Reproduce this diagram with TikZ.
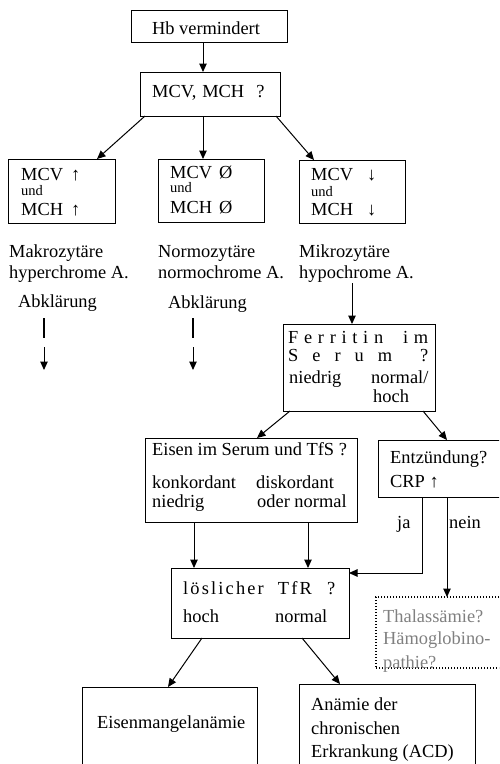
\documentclass[tikz,border=0pt]{standalone}
\usepackage{fontspec}
\setmainfont{Liberation Serif}
\usetikzlibrary{arrows.meta,calc}
\definecolor{hintgray}{HTML}{808080}
\newcommand\bigfs{\fontsize{18.4}{22}\selectfont}
\newcommand\undfs{\fontsize{14.5}{16}\selectfont}
\newcommand\lsp{\hskip 0pt plus 1fil\relax}

\begin{document}
\begin{tikzpicture}[x=1pt,y=-1pt,font=\bigfs,
   box/.style={draw,line width=1pt,inner sep=0pt,outer sep=0pt,anchor=north west},
   dotbox/.style={box,line width=1.3pt,dash pattern=on 1.3pt off 1.7pt},
   txt/.style={anchor=base west,inner sep=0pt},
   arr/.style={line width=1pt,-{Triangle[length=8.5pt,width=7.5pt]}},
   stubline/.style={draw,line width=1.2pt}]
  \useasboundingbox (0,0) rectangle (499,764);
  \clip (0,0) rectangle (499,764);

  % ---- start ----
  \node[box,minimum width=156pt,minimum height=32pt] (hb) at (131,10) {};
  \node[anchor=base,inner sep=0pt] (hbt) at (206,34) {Hb vermindert};
  \node[box,minimum width=140pt,minimum height=44pt] (mcv) at (140,72) {};
  \node[txt] (mcvt) at (152,97) {MCV,\hspace{6pt}MCH\hspace{12pt}?};
  \draw[arr] ([xshift=-6pt]hb.south) -- ([xshift=-7pt]mcv.north);

  % ---- three branches ----
  \node[box,minimum width=107pt,minimum height=64pt] (makro) at (8,159) {};
  \node[txt] (makro1) at (21,180) {MCV\hspace{8pt}↑};
  \node[txt,font=\undfs] (makro2) at (21,195) {und};
  \node[txt] (makro3) at (21,215) {MCH\hspace{8pt}↑};

  \node[box,minimum width=106pt,minimum height=63pt] (normo) at (158,159) {};
  \node[txt] (normo1) at (170,178) {MCV\hspace{7pt}Ø};
  \node[txt,font=\undfs] (normo2) at (170,192) {und};
  \node[txt] (normo3) at (170,213) {MCH\hspace{7pt}Ø};

  \node[box,minimum width=106pt,minimum height=63pt] (mikro) at (299,160) {};
  \node[txt] (mikro1) at (311,180) {MCV\hspace{14pt}↓};
  \node[txt,font=\undfs] (mikro2) at (311,196) {und};
  \node[txt] (mikro3) at (311,215) {MCH\hspace{14pt}↓};

  \draw[arr] ([xshift=5pt]mcv.south west) -- ([xshift=-18pt]makro.north east);
  \draw[arr] ([xshift=63pt]mcv.south west) -- ([xshift=45pt]normo.north west);
  \draw[arr] ([xshift=-4pt]mcv.south east) -- ([xshift=15pt]mikro.north west);

  \node[txt] (makroa) at (9,257) {Makrozytäre};
  \node[txt] (makrob) at (9,278) {hyperchrome A.};
  \node[txt] (normoa) at (158,257) {Normozytäre};
  \node[txt] (normob) at (158,278) {normochrome A.};
  \node[txt] (mikroa) at (299,257) {Mikrozytäre};
  \node[txt] (mikrob) at (299,278) {hypochrome A.};
  \node[txt] (abk1) at (18,307) {Abklärung};
  \node[txt] (abk2) at (168,308) {Abklärung};

  % open ends below the two Abklaerung labels
  \coordinate (ua) at (44,318); \coordinate (ub) at (44,338);
  \coordinate (uc) at (44,347); \coordinate (ud) at (44,370);
  \coordinate (va) at (193,318); \coordinate (vb) at (193,338);
  \coordinate (vc) at (193,347); \coordinate (vd) at (193,370);
  \path[stubline] (ua) -- (ub) (va) -- (vb);
  \draw[arr] (uc) -- (ud);
  \draw[arr] (vc) -- (vd);

  % ---- ferritin ----
  \node[box,minimum width=152pt,minimum height=87pt] (ferr) at (283,324) {};
  \node[txt] (ferr1) at (288,343) {\makebox[140pt][s]{F\lsp e\lsp r\lsp r\lsp i\lsp t\lsp i\lsp n\hskip 0pt plus 3.5fil i\lsp m}};
  \node[txt] (ferr2) at (288,361) {\makebox[140pt][s]{S\lsp e\lsp r\lsp u\lsp m\hskip 0pt plus 2fil ?}};
  \node[txt] (ferr3) at (289,383) {niedrig};
  \node[txt] (ferr4) at (371,383) {normal/};
  \node[txt] (ferr5) at (373,402) {hoch};
  \coordinate (mk) at (352,283);
  \draw[arr] (mk) -- ([xshift=-7pt]ferr.north);

  % ---- iron / inflammation ----
  \node[box,minimum width=212pt,minimum height=84pt] (eisen) at (145,438) {};
  \node[txt] (eisen1) at (152,455) {Eisen im Serum und TfS ?};
  \node[txt] (eisen2) at (152,488) {konkordant};
  \node[txt] (eisen3) at (152,507) {niedrig};
  \node[txt] (eisen4) at (256,488) {diskordant};
  \node[txt] (eisen5) at (257,507) {oder normal};

  \node[box,minimum width=140pt,minimum height=57pt] (entz) at (378,440) {};
  \node[txt] (entz1) at (390,463) {Entzündung?};
  \node[txt] (entz2) at (390,487) {CRP ↑};

  \draw[arr] ([xshift=7pt]ferr.south west) -- ([xshift=-100pt]eisen.north east);
  \draw[arr] ([xshift=-12pt]ferr.south east) -- ([xshift=69pt]entz.north west);

  % ---- soluble TfR ----
  \node[box,minimum width=178pt,minimum height=70pt] (loes) at (171,568) {};
  \node[txt] (loes1) at (183,594) {\makebox[152pt][s]{l\lsp ö\lsp s\lsp l\lsp i\lsp c\lsp h\lsp e\lsp r\hskip 0pt plus 6.5fil T\lsp f\lsp R\hskip 0pt plus 7fil ?}};
  \node[txt] (loes2) at (183,622) {hoch};
  \node[txt] (loes3) at (275,622) {normal};

  \node[dotbox,minimum width=140pt,minimum height=71pt] (thal) at (376,597) {};
  \node[txt,text=hintgray] (thal1) at (383,622) {Thalassämie?};
  \node[txt,text=hintgray] (thal2) at (383,644) {Hämoglobino-};
  \node[txt,text=hintgray] (thal3) at (383,668) {pathie?};

  \draw[arr] ([xshift=49pt]eisen.south west) -- ([xshift=23pt]loes.north west);
  \draw[arr] ([xshift=163pt]eisen.south west) -- ([xshift=137pt]loes.north west);
  \draw[arr] ([xshift=44pt]entz.south west) |- ([yshift=-5pt]loes.north east);
  \draw[arr] ([xshift=69pt]entz.south west) -- ([xshift=71pt]thal.north west);
  \node[txt] (ja) at (397,528) {ja};
  \node[txt] (nein) at (449,528) {nein};

  % ---- results ----
  \node[box,minimum width=175pt,minimum height=100pt] (eml) at (82,687) {};
  \node[txt] (eml1) at (97,728) {Eisenmangelanämie};
  \node[box,minimum width=176pt,minimum height=100pt] (acd) at (299,684) {};
  \node[txt] (acd1) at (311,710) {Anämie der};
  \node[txt] (acd2) at (311,734) {chronischen};
  \node[txt] (acd3) at (311,757) {Erkrankung (ACD)};

  \draw[arr] ([xshift=31pt]loes.south west) -- ([xshift=86pt]eml.north west);
  \draw[arr] ([xshift=131pt]loes.south west) -- ([xshift=41pt]acd.north west);
\end{tikzpicture}
\end{document}
